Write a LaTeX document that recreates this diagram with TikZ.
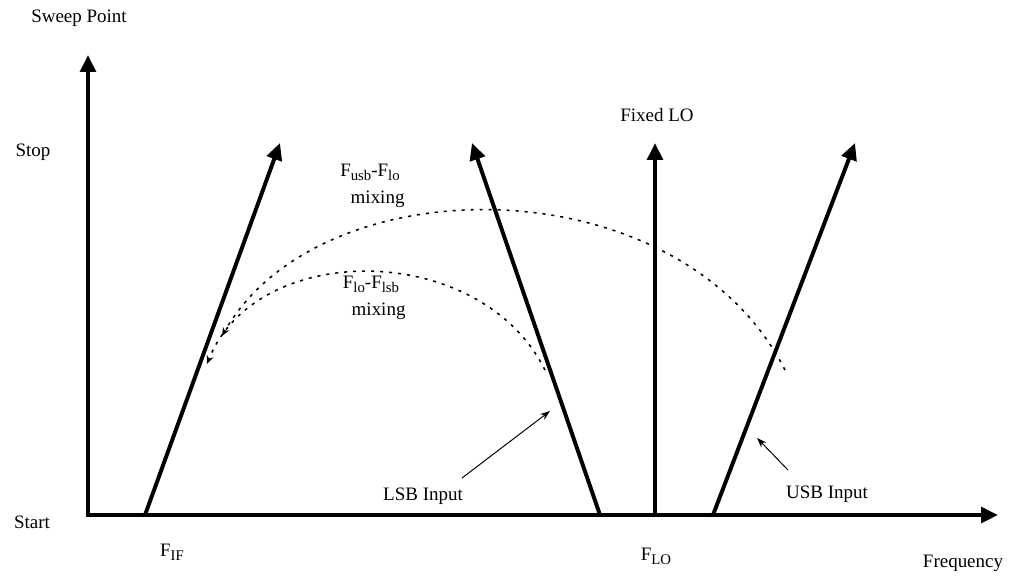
\documentclass[tikz,border=0pt]{standalone}
\usepackage{fontspec}
\setmainfont{Liberation Serif}
\usetikzlibrary{arrows.meta}
\newcommand{\lowtext}[1]{\raisebox{-0.45ex}{\fontsize{10.5}{12}\selectfont #1}}
\begin{document}
\begin{tikzpicture}[x=0.025cm, y=-0.025cm, font=\fontsize{13.5}{16}\selectfont,
    sweep/.style={line width=2.8pt, -{Triangle[length=12pt,width=11pt]}},
    mixpath/.style={line width=1.1pt, dash pattern=on 2.2pt off 4.2pt, -{Stealth[length=6pt,width=5pt]}},
    pointer/.style={line width=0.7pt, -{Stealth[length=7pt,width=5pt]}}]
    \useasboundingbox (0,0) rectangle (1016,581);
    \coordinate (o) at (88,515);
    \coordinate (ytop) at (88,55);
    \coordinate (xend) at (998,515);
    \coordinate (if) at (145,515);
    \coordinate (ift) at (280,143);
    \coordinate (lsb) at (600,515);
    \coordinate (lsbt) at (472,143);
    \coordinate (lo) at (655,515);
    \coordinate (lot) at (655,143);
    \coordinate (usb) at (713,515);
    \coordinate (usbt) at (855,143);
    \coordinate (lsbpt) at (550,411);
    \coordinate (usbpt) at (757,438);
    \node (sweep) at (79,18) {Sweep Point};
    \node (stop) at (33,152) {Stop};
    \node (start) at (32,522) {Start};
    \node (fif) at (172,552) {F\lowtext{IF}};
    \node (flo) at (656,556) {F\lowtext{LO}};
    \node (freq) at (963,563) {Frequency};
    \node (fixed) at (657,115) {Fixed LO};
    \node[align=center, inner sep=0pt] (upmix) at (370,186) {F\lowtext{usb}-F\lowtext{lo}\\[3pt]\hspace*{0.8em}mixing};
    \node[align=center, inner sep=0pt] (lowmix) at (371,298) {F\lowtext{lo}-F\lowtext{lsb}\\[3pt]\hspace*{0.8em}mixing};
    \node (lsbin) at (423,496) {LSB Input};
    \node (usbin) at (827,494) {USB Input};
    \draw[line width=2.8pt, {Triangle[length=12pt,width=11pt]}-{Triangle[length=12pt,width=11pt]}] (ytop) -- (o) -- (xend);
    \draw[sweep] (if) -- (ift);
    \draw[sweep] (lsb) -- (lsbt);
    \draw[sweep] (lo) -- (lot);
    \draw[sweep] (usb) -- (usbt);
    \draw[mixpath] (785,370) .. controls (680,163) and (320,163) .. (222,336);
    \draw[mixpath] (545,370) .. controls (480,240) and (256,240) .. (207,364);
    \draw[pointer] (462,478) -- (lsbpt);
    \draw[pointer] (788,470) -- (usbpt);
\end{tikzpicture}
\end{document}
